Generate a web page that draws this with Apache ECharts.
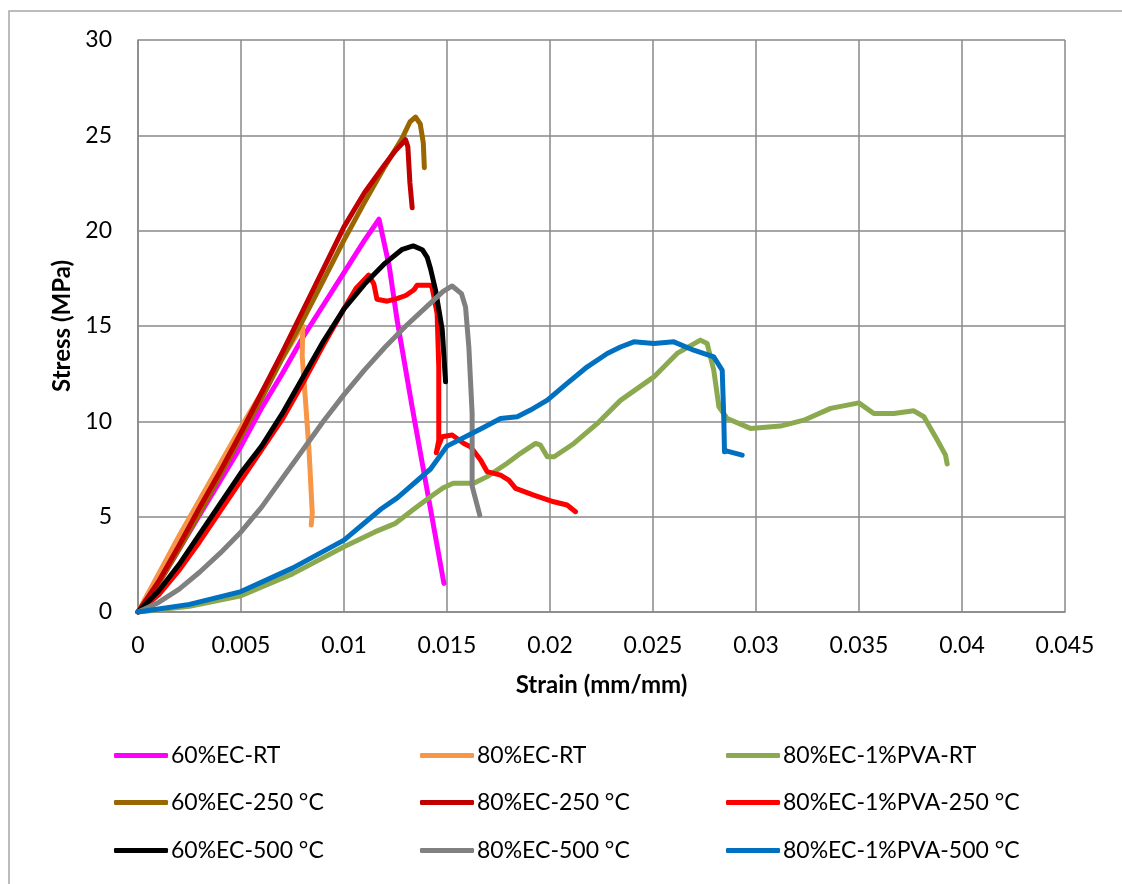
<!DOCTYPE html>
<html>
<head>
<meta charset="utf-8">
<script src="https://cdn.jsdelivr.net/npm/echarts@6/dist/echarts.min.js"></script>
<style>
  html, body { margin: 0; padding: 0; background: #fff; }
  #chart { width: 1122px; height: 884px; }
</style>
</head>
<body>
<div id="chart"></div>
<script>
// strain (mm/mm), stress (MPa)
var ec60RT = [[0,0],[0.001,1.5],[0.002,3.3],[0.003,5.1],[0.004,6.9],[0.005,8.7],[0.006,10.7],[0.007,12.5],
    [0.008,14.4],[0.009,16.1],[0.010,17.8],[0.011,19.5],[0.0117,20.6],[0.01178,20.69],[0.0122,18.1],
    [0.01258,15.3],[0.0133,10.8],[0.0141,6.0],[0.01485,1.5]];
var ec80RT = [[0,0],[0.001,2.0],[0.002,4.0],[0.003,5.9],[0.004,7.8],[0.005,9.7],[0.006,11.5],[0.007,13.3],
    [0.0078,14.7],[0.008,15.0],[0.00797,13.4],[0.00813,11.1],[0.0083,8.5],[0.00846,5.2],[0.00841,4.56]];
var pvaRT = [[0,0],[0.0025,0.3],[0.005,0.85],[0.0075,2.0],[0.01,3.42],[0.0115,4.2],[0.0125,4.65],[0.0134,5.4],
    [0.0142,6.04],[0.0148,6.5],[0.0153,6.75],[0.0163,6.75],[0.01695,7.1],[0.01792,7.8],[0.01857,8.32],
    [0.0193,8.84],[0.01954,8.75],[0.01987,8.14],[0.0202,8.14],[0.02116,8.84],[0.0223,9.89],[0.02342,11.1],
    [0.02504,12.33],[0.02617,13.56],[0.0273,14.26],[0.02763,14.08],[0.02795,12.68],[0.0282,10.76],
    [0.0286,10.15],[0.02973,9.63],[0.03119,9.75],[0.03232,10.06],[0.03362,10.68],[0.03499,10.97],
    [0.03572,10.41],[0.03669,10.41],[0.03766,10.55],[0.03815,10.24],[0.0388,9.02],[0.0392,8.23],[0.03928,7.76]];
var ec60T250 = [[0,0],[0.001,1.5],[0.002,3.3],[0.003,5.2],[0.004,7.2],[0.005,9.2],[0.006,11.2],[0.007,13.3],
    [0.008,15.3],[0.009,17.4],[0.010,19.5],[0.011,21.5],[0.012,23.4],[0.0128,24.8],[0.0132,25.7],
    [0.01347,25.96],[0.0137,25.6],[0.01385,24.6],[0.0139,23.3]];
var ec80T250 = [[0,0],[0.001,1.6],[0.002,3.5],[0.003,5.5],[0.004,7.4],[0.005,9.4],[0.006,11.5],[0.007,13.6],
    [0.008,15.8],[0.009,18.0],[0.010,20.2],[0.011,22.0],[0.012,23.5],[0.0125,24.2],[0.01299,24.77],
    [0.0131,24.4],[0.0132,22.5],[0.01331,21.2]];
var pvaT250 = [[0,0],[0.001,0.9],[0.002,2.2],[0.003,3.7],[0.004,5.3],[0.005,6.9],[0.006,8.5],[0.007,10.1],
    [0.008,12.0],[0.009,14.0],[0.010,15.9],[0.0106,17.0],[0.0112,17.67],[0.01145,17.2],[0.0116,16.4],
    [0.0121,16.3],[0.0126,16.45],[0.013,16.6],[0.0134,16.9],[0.01355,17.14],[0.0142,17.14],[0.01428,17.0],
    [0.01452,15.66],[0.0146,12.86],[0.0146,9.0],[0.01448,8.35],[0.01458,8.7],[0.01477,9.19],[0.01525,9.28],
    [0.01582,8.84],[0.01614,8.67],[0.01663,7.97],[0.01695,7.36],[0.0176,7.18],[0.018,6.92],[0.01833,6.48],
    [0.01921,6.13],[0.02018,5.78],[0.02083,5.61],[0.02124,5.26]];
var ec60T500 = [[0,0],[0.001,1.1],[0.002,2.5],[0.003,4.1],[0.004,5.7],[0.005,7.3],[0.006,8.7],[0.007,10.4],
    [0.008,12.3],[0.009,14.2],[0.010,15.9],[0.011,17.2],[0.012,18.3],[0.0128,19.0],[0.01336,19.2],
    [0.0138,19.0],[0.01404,18.6],[0.0142,18.0],[0.01444,16.9],[0.0146,15.9],[0.01477,14.8],[0.01493,12.07]];
var ec80T500 = [[0,0],[0.001,0.5],[0.002,1.2],[0.003,2.1],[0.004,3.1],[0.005,4.2],[0.006,5.5],[0.007,7.0],
    [0.008,8.5],[0.009,10.0],[0.010,11.4],[0.011,12.7],[0.012,13.9],[0.013,15.0],[0.014,16.0],[0.0148,16.8],
    [0.01525,17.1],[0.0157,16.7],[0.0159,16.0],[0.01606,13.9],[0.01622,10.4],[0.01622,6.6],[0.01659,5.08]];
var pvaT500 = [[0,0],[0.0025,0.4],[0.005,1.07],[0.0075,2.3],[0.01,3.77],[0.0118,5.4],[0.0126,6.0],[0.0142,7.5],
    [0.015,8.7],[0.01663,9.6],[0.0176,10.15],[0.01841,10.24],[0.01905,10.59],[0.01987,11.11],[0.02083,11.99],
    [0.02181,12.86],[0.02278,13.56],[0.02342,13.9],[0.02407,14.17],[0.02504,14.08],[0.02601,14.17],
    [0.02698,13.73],[0.02795,13.38],[0.02836,12.68],[0.02844,10.06],[0.02847,8.4],[0.0286,8.44],[0.02933,8.23]];

var names = ['60%EC-RT', '80%EC-RT', '80%EC-1%PVA-RT',
    '60%EC-250 °C', '80%EC-250 °C', '80%EC-1%PVA-250 °C',
    '60%EC-500 °C', '80%EC-500 °C', '80%EC-1%PVA-500 °C'];
var datasets = [ec60RT, ec80RT, pvaRT, ec60T250, ec80T250, pvaT250, ec60T500, ec80T500, pvaT500];
var colors = ['#FF00FF', '#F79646', '#8BA94F', '#996600', '#C00000', '#FF0000', '#000000', '#808080', '#0070C0'];

var xTicks = [0, 0.005, 0.01, 0.015, 0.02, 0.025, 0.03, 0.035, 0.04, 0.045];
var yTicks = [0, 5, 10, 15, 20, 25, 30];

var font = 'Lato, "Open Sans", sans-serif';
var gridColor = '#888888';

var series = [];
for (var i = 0; i < datasets.length; i++) {
    series.push({
        name: names[i],
        type: 'line',
        data: datasets[i],
        showSymbol: false,
        symbol: 'none',
        smooth: false,
        color: colors[i],
        lineStyle: {width: 5, color: colors[i], cap: 'round', join: 'round'}
    });
}

var legendCols = [114, 420, 726];
var legendRows = [744, 791, 839];
var legends = [];
for (var k = 0; k < names.length; k++) {
    legends.push({
        data: [names[k]],
        left: legendCols[k % 3],
        top: legendRows[Math.floor(k / 3)],
        icon: 'roundRect',
        itemWidth: 54,
        itemHeight: 5,
        itemGap: 4,
        padding: 0,
        textStyle: {fontFamily: font, fontSize: 23, color: '#000', padding: [0, 0, 0, -2]}
    });
}

var option = {
    backgroundColor: '#fff',
    animation: false,
    graphic: [{
        type: 'rect',
        shape: {x: 9, y: 11, width: 1300, height: 1000},
        style: {fill: 'none', stroke: '#A6A6A6', lineWidth: 1.5},
        silent: true
    }],
    legend: legends,
    grid: {left: 138, right: 57, top: 40, bottom: 272},
    xAxis: {
        type: 'value',
        min: xTicks[0],
        max: xTicks[xTicks.length - 1],
        interval: 0.005,
        name: 'Strain (mm/mm)',
        nameLocation: 'middle',
        nameGap: 61,
        nameTextStyle: {fontFamily: font, fontSize: 24, fontWeight: 'bold', color: '#000'},
        axisLine: {lineStyle: {color: gridColor, width: 1.5}},
        axisTick: {show: false},
        splitLine: {show: true, lineStyle: {color: gridColor, width: 1.5}},
        axisLabel: {
            fontFamily: font, fontSize: 23, color: '#000', margin: 22,
            formatter: function (v) { return String(+v.toFixed(3)); }
        }
    },
    yAxis: {
        type: 'value',
        min: yTicks[0],
        max: yTicks[yTicks.length - 1],
        interval: 5,
        name: 'Stress (MPa)',
        nameLocation: 'middle',
        nameGap: 62,
        nameRotate: 90,
        nameTextStyle: {fontFamily: font, fontSize: 24, fontWeight: 'bold', color: '#000'},
        axisLine: {show: true, lineStyle: {color: gridColor, width: 1.5}},
        axisTick: {show: false},
        splitLine: {show: true, lineStyle: {color: gridColor, width: 1.5}},
        axisLabel: {fontFamily: font, fontSize: 23, color: '#000', margin: 26}
    },
    series: series
};

var chart = echarts.init(document.getElementById('chart'), null, {renderer: 'canvas'});
chart.setOption(option);
</script>
</body>
</html>
